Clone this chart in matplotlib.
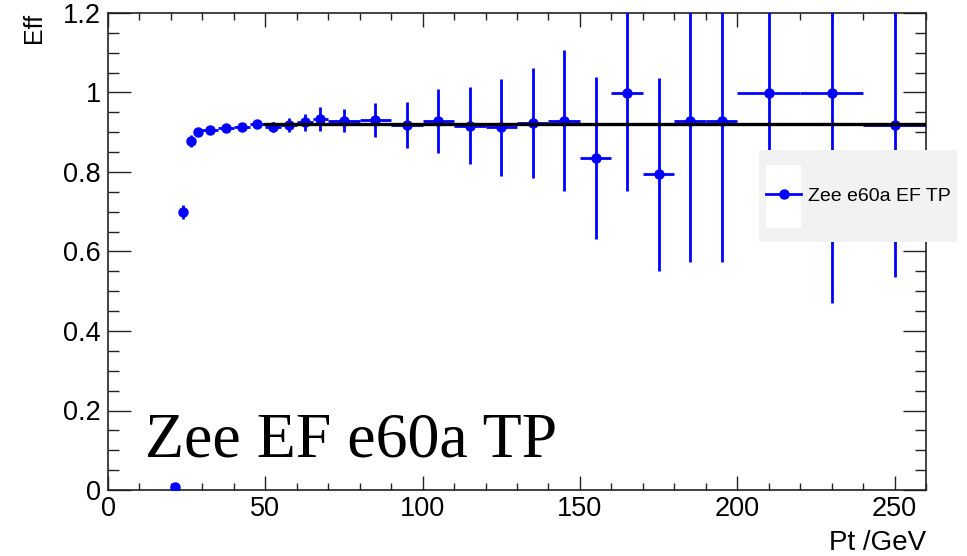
import numpy as np
import matplotlib
matplotlib.use('Agg')
import matplotlib.pyplot as plt
from matplotlib.lines import Line2D
from matplotlib.patches import Rectangle
from matplotlib.ticker import MultipleLocator, FormatStrFormatter

# efficiency vs pt (bin centres, half widths, values, errors)
pt = [21.25, 23.75, 26.25, 28.75, 32.5, 37.5, 42.5, 47.5, 52.5, 57.5, 62.5, 67.5,
      75, 85, 95, 105, 115, 125, 135, 145, 155, 165, 175, 185, 195, 210, 230, 250]
pt_err = [1.25, 1.25, 1.25, 1.25, 2.5, 2.5, 2.5, 2.5, 2.5, 2.5, 2.5, 2.5,
          5, 5, 5, 5, 5, 5, 5, 5, 5, 5, 5, 5, 5, 10, 10, 10]
eff = [0.008, 0.700, 0.878, 0.900, 0.906, 0.911, 0.914, 0.922, 0.914, 0.918, 0.925, 0.933,
       0.929, 0.931, 0.919, 0.929, 0.916, 0.912, 0.924, 0.929, 0.835, 1.0, 0.794, 0.929,
       0.929, 1.0, 1.0, 0.917]
eff_err = [0.005, 0.017, 0.015, 0.010, 0.008, 0.007, 0.007, 0.007, 0.013, 0.018, 0.022, 0.030,
           0.029, 0.042, 0.058, 0.080, 0.097, 0.122, 0.138, 0.178, 0.204, 0.248, 0.242, 0.356,
           0.356, 0.33, 0.53, 0.382]

fit_range = [50, 260]
fit_value = 0.92

W, H = 967, 556
fig = plt.figure(figsize=(W / 100, H / 100), dpi=100)
ax = fig.add_axes([108 / W, 1 - 490 / H, (926 - 108) / W, (490 - 13) / H])

plt.rcParams['font.family'] = ['Liberation Sans', 'DejaVu Sans']

ax.errorbar(pt, eff, xerr=pt_err, yerr=eff_err, fmt='o', color='blue', ms=6.5,
            lw=2.0, capsize=0, zorder=3)
ax.plot(fit_range, [fit_value, fit_value], color='black', lw=2.4, zorder=4)

ax.set_xlim(0, 260)
ax.set_ylim(0, 1.2)
ax.xaxis.set_major_locator(MultipleLocator(50))
ax.xaxis.set_minor_locator(MultipleLocator(10))
ax.yaxis.set_major_locator(MultipleLocator(0.2))
ax.yaxis.set_minor_locator(MultipleLocator(0.05))
ax.xaxis.set_major_formatter(FormatStrFormatter('%g'))
ax.yaxis.set_major_formatter(FormatStrFormatter('%g'))

ax.tick_params(axis='both', which='both', direction='in', top=True, right=True,
               width=1.0, color='#222222', labelsize=19.5)
ax.tick_params(axis='x', which='major', length=10, pad=4)
ax.tick_params(axis='x', which='minor', length=5)
ax.tick_params(axis='y', which='major', length=16.5, pad=5)
ax.tick_params(axis='y', which='minor', length=8)
for s in ax.spines.values():
    s.set_linewidth(1.2)
    s.set_color('#222222')

for lab in ax.get_xticklabels() + ax.get_yticklabels():
    lab.set_family('Liberation Sans')

ax.set_xlabel('Pt /GeV', loc='right', fontsize=20, family='Liberation Sans', labelpad=6)
ax.set_ylabel('Eff', loc='top', fontsize=18, family='Liberation Sans', labelpad=12)

ax.text(11.8, 0.084, 'Zee EF e60a TP', family='Liberation Serif', fontsize=46,
        color='black', zorder=5)

# legend box (sticks out past the right frame)
ax.add_patch(Rectangle((759 / W, 1 - 242 / H), 198 / W, 92 / H, transform=fig.transFigure,
                       facecolor='#f2f2f2', edgecolor='none', clip_on=False, zorder=6))
ax.add_patch(Rectangle((766 / W, 1 - 228 / H), 35 / W, 63 / H, transform=fig.transFigure,
                       facecolor='white', edgecolor='none', clip_on=False, zorder=7))
handle = Line2D([], [], color='blue', marker='o', lw=2.0, ms=6.5)
leg = ax.legend(handles=[handle], labels=['Zee e60a EF TP'], loc='center left',
                bbox_to_anchor=(766 / W, 1 - 196 / H), bbox_transform=fig.transFigure,
                frameon=False, borderpad=0, borderaxespad=0, handlelength=1.8,
                handletextpad=0.35, fontsize=14, prop={'family': 'Liberation Sans', 'size': 14})
leg.set_zorder(10)

fig.savefig('out.png', dpi=100)
